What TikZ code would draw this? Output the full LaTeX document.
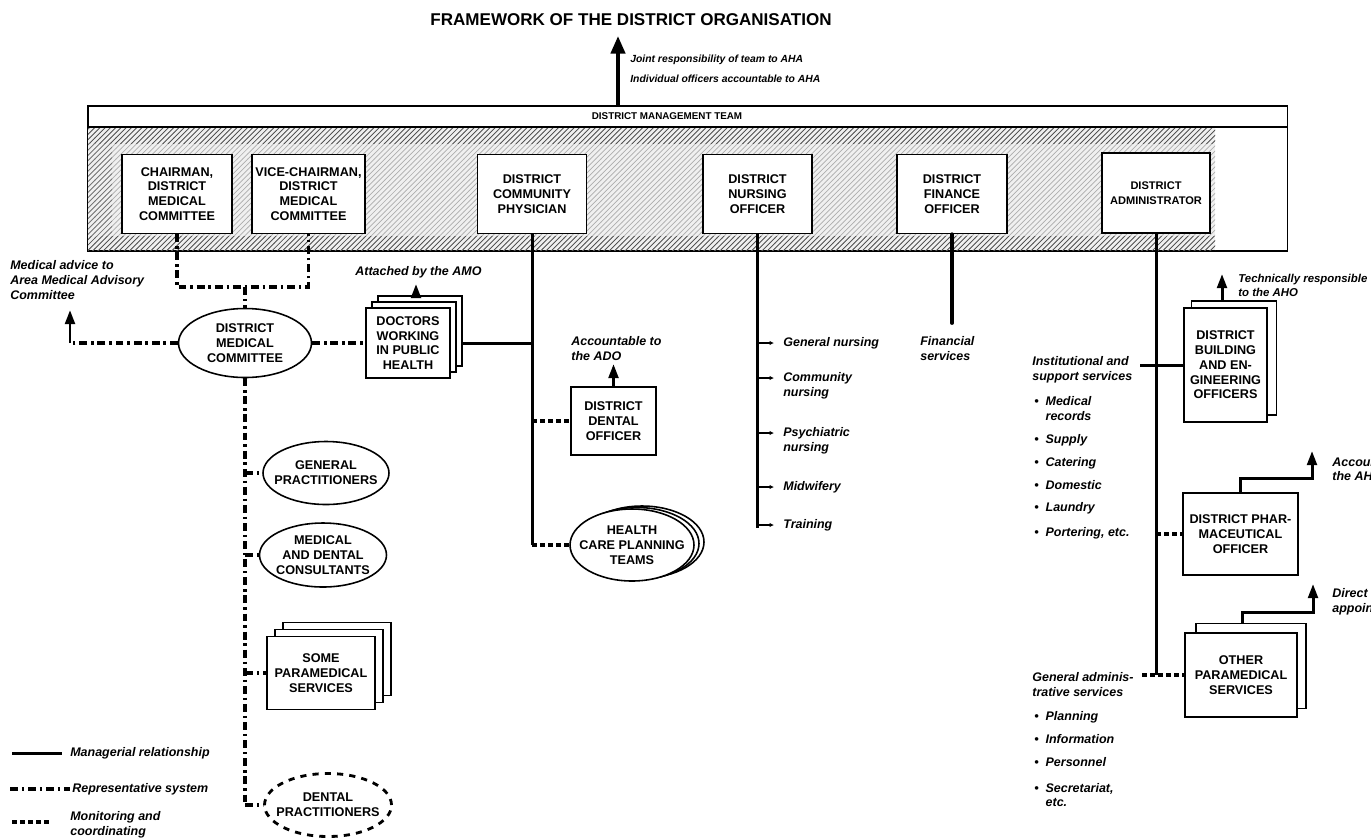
\documentclass[tikz,border=0pt]{standalone}
\usepackage{fontspec}
\setmainfont{Liberation Sans}
\usetikzlibrary{arrows.meta,patterns,shapes.geometric}
\newcommand\capsfont{\bfseries\fontsize{7.2}{8.4}\selectfont}
\newcommand\notefont{\bfseries\itshape\fontsize{7.1}{8.5}\selectfont}
\begin{document}
\begin{tikzpicture}[x=0.02cm,y=-0.02cm,
  mgr/.style={line width=1.7pt},
  rep/.style={line width=1.8pt,dash pattern=on 4.5pt off 2.2pt on 1.4pt off 2.2pt},
  mon/.style={line width=1.8pt,dash pattern=on 2.6pt off 2pt},
  upar/.style={-{Triangle[width=5.5pt,length=8pt]}},
  post/.style={draw,line width=0.9pt,fill=white,inner sep=0pt,align=center,font=\capsfont},
  oval/.style={draw,ellipse,line width=0.9pt,fill=white,inner sep=0pt},
  caps/.style={inner sep=0pt,align=center,font=\capsfont},
  note/.style={inner sep=0pt,align=left,font=\notefont},
  item/.style={note,anchor=west},
  smallnote/.style={item,font=\bfseries\itshape\fontsize{5.9}{7}\selectfont}]
\useasboundingbox (0,0) rectangle (1371,839);
\fill[white] (0,0) rectangle (1371,839);

% ---------- title and team ----------
\node[inner sep=0pt,font=\bfseries\fontsize{9.7}{11}\selectfont] (title) at (631,20) {FRAMEWORK OF THE DISTRICT ORGANISATION};

\node[draw,line width=0.9pt,anchor=north west,minimum width=24cm,minimum height=2.9cm,inner sep=0pt] (dmt) at (87,105) {};
% hatched band behind the officers: dense along its edges, lighter inside
\fill[black!6] (88,128) rectangle (1215,250);
\fill[pattern=north east lines,pattern color=black!32] (88,128) rectangle (1215,250);
\fill[pattern=north east lines,pattern color=black!70] (88,128) rectangle (1215,143);
\fill[pattern=north east lines,pattern color=black!70] (88,236) rectangle (1215,250);
\fill[pattern=north east lines,pattern color=black!55] (88,143) rectangle (112,236);
\draw[line width=0.8pt] (87,127) -- (1287,127);
\node[inner sep=0pt,font=\bfseries\fontsize{5.6}{7}\selectfont] (dmtlabel) at (667,116) {DISTRICT MANAGEMENT TEAM};

\coordinate (teamtip) at (618,36);
\draw[line width=2.2pt,-{Triangle[width=8pt,length=10pt]}] (dmt.north -| teamtip) -- (teamtip);
\node[smallnote] (joint) at (630,60) {Joint responsibility of team to AHA};
\node[smallnote] (indiv) at (630,79) {Individual officers accountable to AHA};

% ---------- officers ----------
\node[post,minimum width=2.2cm,minimum height=1.58cm] (chair) at (177,194) {CHAIRMAN,\\DISTRICT\\MEDICAL\\COMMITTEE};
\node[post,minimum width=2.26cm,minimum height=1.58cm] (vice) at (308.5,194) {VICE-CHAIRMAN,\\DISTRICT\\MEDICAL\\COMMITTEE};
\node[post,minimum width=2.18cm,minimum height=1.58cm] (phys) at (532,194) {DISTRICT\\COMMUNITY\\PHYSICIAN};
\node[post,minimum width=2.18cm,minimum height=1.58cm] (nurse) at (757.5,194) {DISTRICT\\NURSING\\OFFICER};
\node[post,minimum width=2.2cm,minimum height=1.58cm] (fin) at (952,194) {DISTRICT\\FINANCE\\OFFICER};
\node[post,minimum width=2.16cm,minimum height=1.6cm,font=\bfseries\fontsize{6.3}{8.4}\selectfont] (admin) at (1156,193) {DISTRICT\\ADMINISTRATOR};

% ---------- medical committee side ----------
\coordinate (cvL) at (177,287);
\coordinate (cvM) at (245,287);
\coordinate (cvR) at (308.5,287);
\node[oval,minimum width=2.66cm,minimum height=1.38cm,label={[caps]center:DISTRICT\\MEDICAL\\COMMITTEE}] (dmc) at (245,343) {};
\draw[rep] (chair.south) -- (cvL) -- (cvR) -- (vice.south);
\draw[rep] (cvM) -- (dmc.north);

\coordinate (madv) at (70,343);
\coordinate (madvtip) at (70,310);
\draw[rep] (dmc.west) -- (madv);
\draw[mgr,upar] (madv) -- (madvtip);
\node[note,anchor=north west] (madvtext) at (10,260) {Medical advice to\\Area Medical Advisory\\Committee};

\node[post,minimum width=1.68cm,minimum height=1.4cm] (doc3) at (420,331) {};
\node[post,minimum width=1.68cm,minimum height=1.4cm] (doc2) at (414,337) {};
\node[post,minimum width=1.68cm,minimum height=1.4cm] (doc) at (408,343) {DOCTORS\\WORKING\\IN PUBLIC\\HEALTH};
\draw[rep] (dmc.east) -- (doc.west);
\coordinate (doctip) at (416,284);
\draw[mgr,upar] (doc3.north -| doctip) -- (doctip);
\node[note,anchor=west] (attached) at (355,272) {Attached by the AMO};

\coordinate (dmcfoot) at (245,805);
\draw[rep] (dmc.south) -- (dmcfoot);

\node[oval,minimum width=2.52cm,minimum height=1.26cm,label={[caps]center:GENERAL\\PRACTITIONERS}] (gp) at (326,473) {};
\node[oval,minimum width=2.54cm,minimum height=1.28cm,label={[caps]center:MEDICAL\\AND DENTAL\\CONSULTANTS}] (mdc) at (323,555) {};
\node[post,minimum width=2.16cm,minimum height=1.46cm] (sps3) at (337,659) {};
\node[post,minimum width=2.16cm,minimum height=1.46cm] (sps2) at (329,666) {};
\node[post,minimum width=2.16cm,minimum height=1.46cm] (sps) at (321,673) {SOME\\PARAMEDICAL\\SERVICES};
\node[oval,line width=1.6pt,dash pattern=on 3.5pt off 3.5pt,minimum width=2.54cm,minimum height=1.26cm,label={[caps]center:DENTAL\\PRACTITIONERS}] (dp) at (328,805) {};

\draw[rep] (gp.west -| dmcfoot) -- (gp.west);
\draw[rep] (mdc.west -| dmcfoot) -- (mdc.west);
\draw[rep] (sps.west -| dmcfoot) -- (sps.west);
\draw[rep] (dmcfoot) -- (dp.west);

% ---------- community physician ----------
\coordinate (physfoot) at (532,545);
\draw[mgr] (phys.south) -- (physfoot);
\draw[mgr] (doc.east -| doc3.east) -- (doc.east -| physfoot);

\node[post,minimum width=1.7cm,minimum height=1.36cm] (dent) at (613.5,421) {DISTRICT\\DENTAL\\OFFICER};
\draw[mon] (dent.west -| physfoot) -- (dent.west);
\coordinate (denttip) at (613.5,364);
\draw[mgr,upar] (dent.north) -- (denttip);
\node[note,anchor=north west] (ado) at (571,336) {Accountable to\\the ADO};

\node[oval,minimum width=2.48cm,minimum height=1.44cm] (hcpt3) at (642,542) {};
\node[oval,minimum width=2.48cm,minimum height=1.44cm] (hcpt2) at (637,543.5) {};
\node[oval,minimum width=2.48cm,minimum height=1.44cm,label={[caps]center:HEALTH\\CARE PLANNING\\TEAMS}] (hcpt) at (632,545) {};
\draw[mon] (physfoot) -- (hcpt.west);

% ---------- nursing ----------
\coordinate (nursefoot) at (757.5,528);
\draw[mgr] (nurse.south) -- (nursefoot);
\node[item] (n1) at (783,343) {General nursing};
\node[item] (n2) at (783,385.5) {Community\\nursing};
\node[item] (n3) at (783,440.5) {Psychiatric\\nursing};
\node[item] (n4) at (783,487) {Midwifery};
\node[item] (n5) at (783,525) {Training};
\foreach \n/\y in {n1/343,n2/378,n3/433,n4/487,n5/525}
  \draw[line width=1pt,-{Latex[length=2.5pt,width=2.5pt]}] (757.5,\y) -- (774,\y);

% ---------- finance ----------
\coordinate (finfoot) at (952,323);
\draw[mgr,line cap=round,line width=2.2pt] (fin.south) -- (finfoot);
\node[item] (finserv) at (920,348.5) {Financial\\services};

% ---------- administrator ----------
\coordinate (adminfoot) at (1156,675);
\draw[mgr] (admin.south) -- (adminfoot);

\node[item] (inst) at (1032,369.5) {Institutional and\\support services};
\node[item] (i1) at (1034,408.5) {\textbullet\ \ Medical\\\phantom{\textbullet\ \ }records};
\node[item] (i2) at (1034,440) {\textbullet\ \ Supply};
\node[item] (i3) at (1034,463) {\textbullet\ \ Catering};
\node[item] (i4) at (1034,485) {\textbullet\ \ Domestic};
\node[item] (i5) at (1034,508) {\textbullet\ \ Laundry};
\node[item] (i6) at (1034,533) {\textbullet\ \ Portering, etc.};

\node[item] (gadm) at (1032,684.5) {General adminis-\\trative services};
\node[item] (g1) at (1034,717) {\textbullet\ \ Planning};
\node[item] (g2) at (1034,739) {\textbullet\ \ Information};
\node[item] (g3) at (1034,762) {\textbullet\ \ Personnel};
\node[item] (g4) at (1034,795) {\textbullet\ \ Secretariat,\\\phantom{\textbullet\ \ }etc.};

\node[post,minimum width=1.7cm,minimum height=2.28cm] (bld2) at (1234,358) {};
\node[post,minimum width=1.66cm,minimum height=2.28cm] (bld) at (1225.5,365) {DISTRICT\\BUILDING\\AND EN-\\GINEERING\\OFFICERS};
\coordinate (instend) at (1140,365);
\draw[mgr] (instend) -- (bld.west);
\coordinate (bldtip) at (1222,274);
\draw[mgr,upar] (bld2.north -| bldtip) -- (bldtip);

\node[post,minimum width=2.3cm,minimum height=1.64cm] (pharm) at (1240.5,534) {DISTRICT PHAR-\\MACEUTICAL\\OFFICER};
\draw[mon] (pharm.west -| adminfoot) -- (pharm.west);
\coordinate (phknee) at (1312,478);
\coordinate (phtip) at (1312,451);
\draw[mgr,upar] (pharm.north) |- (phknee) -- (phtip);

\node[post,minimum width=2.2cm,minimum height=1.7cm] (opm2) at (1251,666) {};
\node[post,minimum width=2.24cm,minimum height=1.68cm] (opm) at (1241,675) {OTHER\\PARAMEDICAL\\SERVICES};
\coordinate (gaend) at (1142,675);
\draw[mon] (gaend) -- (opm.west);
\coordinate (opknee) at (1313,612);
\coordinate (optip) at (1313,584);
\draw[mgr,upar] (opm2.north -| 1242,0) |- (opknee) -- (optip);

% notes running off the right-hand edge of the sheet
\begin{scope}
  \clip (0,0) rectangle (1371,839);
  \node[item,font=\bfseries\itshape\fontsize{6.5}{8.2}\selectfont] (techresp) at (1238,285.5) {Technically responsible\\to the AHO};
  \node[item] (acct) at (1332,469) {Accountable to\\the AHO};
  \node[item] (direct) at (1332,601.5) {Direct\\appointment};
\end{scope}

% ---------- key ----------
\coordinate (k1a) at (12,753); \coordinate (k1b) at (62,753);
\coordinate (k2a) at (10,789); \coordinate (k2b) at (70,789);
\coordinate (k3a) at (12,822); \coordinate (k3b) at (52,822);
\draw[mgr] (k1a) -- (k1b);
\draw[rep] (k2a) -- (k2b);
\draw[mon] (k3a) -- (k3b);
\node[item] (key1) at (70,753) {Managerial relationship};
\node[item] (key2) at (72,789) {Representative system};
\node[item] (key3) at (70,824.5) {Monitoring and\\coordinating};
\end{tikzpicture}
\end{document}
